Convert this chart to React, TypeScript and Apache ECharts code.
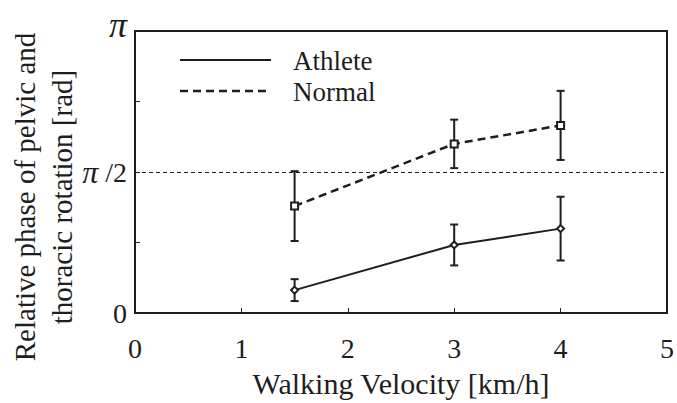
import React, { useEffect, useRef } from "react";
import * as echarts from "echarts";

const velocities = [1.5, 3, 4];
const athleteMean = [0.255, 0.758, 0.94];
const athleteErr = [0.122, 0.228, 0.355];
const normalMean = [1.191, 1.884, 2.09];
const normalErr = [0.389, 0.27, 0.385];
const xTicks = [0, 1, 2, 3, 4, 5];
const yTickLabels = ["0", "", "{pi|π}{n| /2}", "", "{pib|π}"];

const Q = Math.PI / 4; // y axis unit: quarter pi
const FONT = "Liberation Serif";
const INK = "#1e1e1e";

export default function App() {
  const ref = useRef<HTMLDivElement>(null);
  useEffect(() => {
    if (!ref.current) return;
    const chart = echarts.init(ref.current, undefined, { renderer: "svg" });
    const toQ = (v: number) => v / Q;
    const errData = (mean: number[], err: number[]) =>
      velocities.map((x, i) => [x, toQ(mean[i] - err[i]), toQ(mean[i] + err[i])]);
    const renderErr = (params: any, api: any) => {
      const x = api.value(0);
      const lo = api.coord([x, api.value(1)]);
      const hi = api.coord([x, api.value(2)]);
      const w = 4;
      const style = { stroke: INK, lineWidth: 2 };
      return {
        type: "group",
        children: [
          { type: "line", shape: { x1: lo[0], y1: lo[1], x2: hi[0], y2: hi[1] }, style },
          { type: "line", shape: { x1: lo[0] - w, y1: lo[1], x2: lo[0] + w, y2: lo[1] }, style },
          { type: "line", shape: { x1: hi[0] - w, y1: hi[1], x2: hi[0] + w, y2: hi[1] }, style },
        ],
      };
    };
    const titleText = (text: string, x: number) => ({
      type: "text",
      x,
      y: 197,
      rotation: Math.PI / 2,
      style: {
        text,
        fontFamily: FONT,
        fontSize: 29,
        fill: INK,
        align: "center",
        verticalAlign: "middle",
      },
    });
    chart.setOption({
      animation: false,
      backgroundColor: "#fff",
      textStyle: { fontFamily: FONT, color: INK },
      grid: {
        left: 135,
        top: 31,
        right: 9,
        bottom: 89,
        show: true,
        borderColor: INK,
        borderWidth: 2,
        backgroundColor: "transparent",
      },
      xAxis: {
        type: "value",
        min: xTicks[0],
        max: xTicks[xTicks.length - 1],
        interval: 1,
        name: "Walking Velocity [km/h]",
        nameLocation: "middle",
        nameGap: 55,
        nameTextStyle: { fontFamily: FONT, fontSize: 30, color: INK },
        axisLine: { show: true, lineStyle: { color: INK, width: 2 } },
        axisTick: { show: true, inside: true, length: 5, lineStyle: { color: INK, width: 1 } },
        axisLabel: { fontFamily: FONT, fontSize: 28, color: INK, margin: 21 },
        splitLine: { show: false },
      },
      yAxis: {
        type: "value",
        min: 0,
        max: 4,
        interval: 1,
        axisLine: { show: true, lineStyle: { color: INK, width: 2 } },
        axisTick: { show: true, inside: true, length: 5, lineStyle: { color: INK, width: 1 } },
        axisLabel: {
          margin: 8,
          formatter: (_v: number, i: number) => yTickLabels[i] ?? "",
          rich: {
            pi: { fontFamily: FONT, fontSize: 32, fontStyle: "italic", color: INK },
            pib: { fontFamily: FONT, fontSize: 36, fontStyle: "italic", color: INK, padding: [0, 0, 12, 0] },
            n: { fontFamily: FONT, fontSize: 28, color: INK },
          },
          fontFamily: FONT,
          fontSize: 28,
          color: INK,
        },
        splitLine: { show: false },
      },
      graphic: [
        titleText("Relative phase of pelvic and", 25),
        titleText("thoracic rotation [rad]", 62),
        {
          type: "line",
          shape: { x1: 180, y1: 60, x2: 271, y2: 60 },
          style: { stroke: INK, lineWidth: 2 },
        },
        {
          type: "line",
          shape: { x1: 180, y1: 91, x2: 271, y2: 91 },
          style: { stroke: INK, lineWidth: 2.5, lineDash: [8, 5] },
        },
        {
          type: "text",
          x: 293,
          y: 61,
          style: { text: "Athlete", fontFamily: FONT, fontSize: 27, fill: INK, verticalAlign: "middle" },
        },
        {
          type: "text",
          x: 293,
          y: 92,
          style: { text: "Normal", fontFamily: FONT, fontSize: 27, fill: INK, verticalAlign: "middle" },
        },
      ],
      series: [
        {
          name: "Athlete",
          type: "line",
          data: velocities.map((x, i) => [x, toQ(athleteMean[i])]),
          symbol: "emptyDiamond",
          symbolSize: 7,
          lineStyle: { color: INK, width: 2 },
          itemStyle: { color: INK, borderWidth: 1.5 },
          z: 3,
          markLine: {
            silent: true,
            symbol: "none",
            label: { show: false },
            lineStyle: { color: INK, width: 1, type: [4, 3] },
            data: [{ yAxis: 2 }],
          },
        },
        {
          name: "Normal",
          type: "line",
          data: velocities.map((x, i) => [x, toQ(normalMean[i])]),
          symbol: "emptyRect",
          symbolSize: 7,
          lineStyle: { color: INK, width: 2.5, type: [8, 5] },
          itemStyle: { color: INK, borderWidth: 1.5 },
          z: 3,
        },
        {
          type: "custom",
          data: errData(athleteMean, athleteErr),
          renderItem: renderErr,
          z: 2,
        },
        {
          type: "custom",
          data: errData(normalMean, normalErr),
          renderItem: renderErr,
          z: 2,
        },
      ],
    });
    return () => chart.dispose();
  }, []);
  return (
    <div
      ref={ref}
      style={{ position: "fixed", left: 0, top: 0, width: 677, height: 403, background: "#fff" }}
    />
  );
}
